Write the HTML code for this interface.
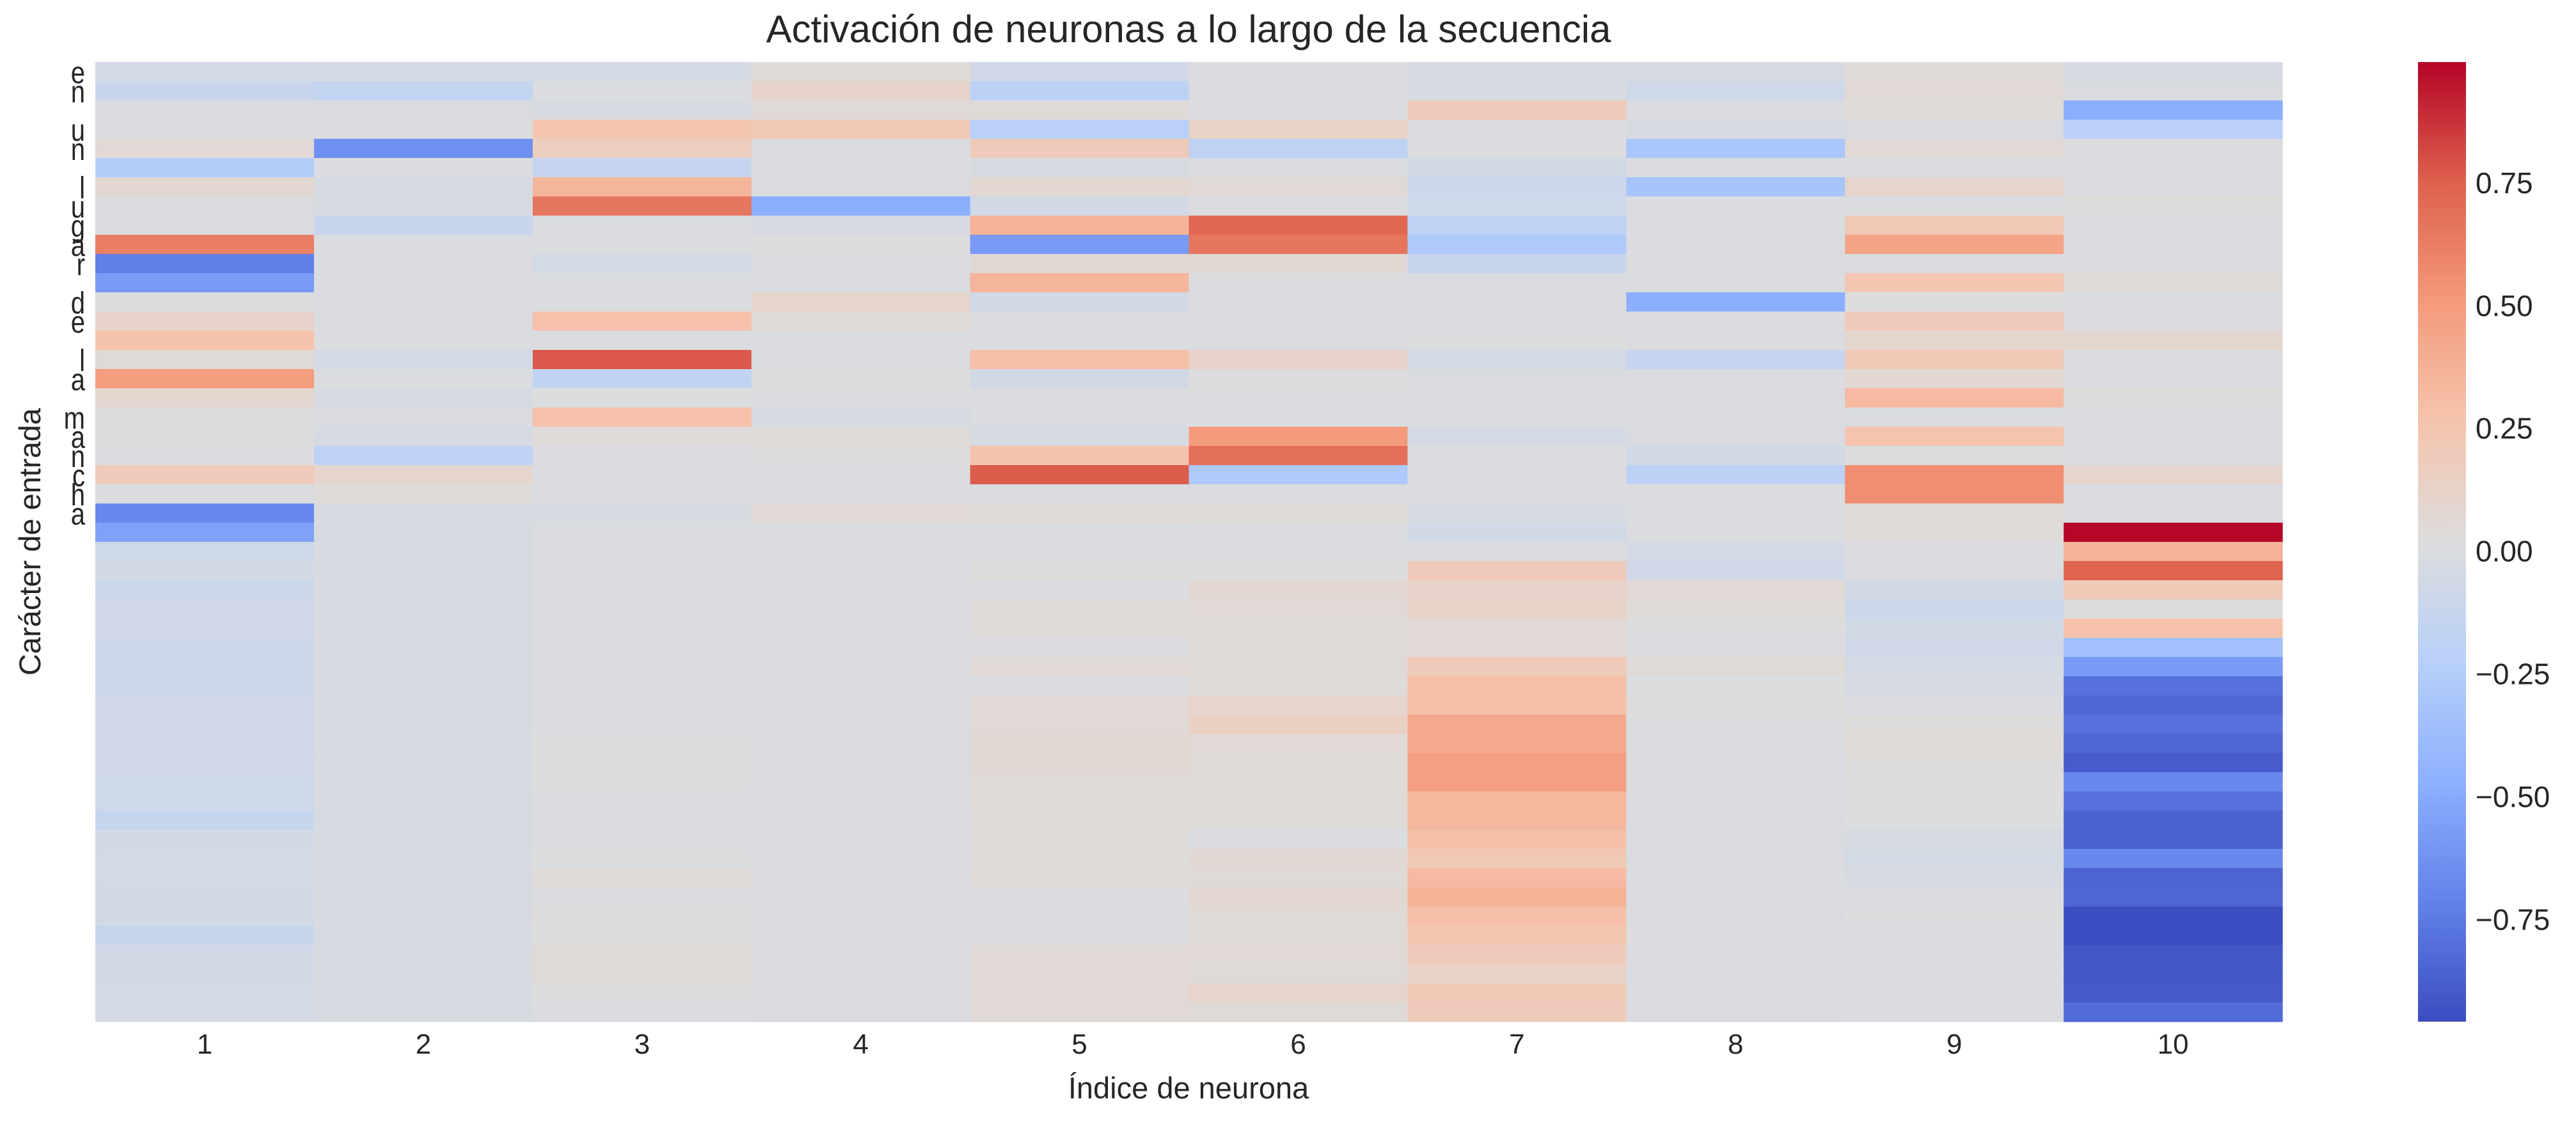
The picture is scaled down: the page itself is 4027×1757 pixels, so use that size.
<!DOCTYPE html>
<html><head><meta charset="utf-8">
<style>
html,body{margin:0;padding:0;background:#fff;}
svg text{font-family:"Liberation Sans",Arial,sans-serif;fill:#262626;}
</style></head>
<body>
<svg id="chart" xmlns="http://www.w3.org/2000/svg" width="4027" height="1752" viewBox="0 0 4027 1752">
<defs>
<linearGradient id="cmap" x1="0" y1="1" x2="0" y2="0">
<stop offset="0" stop-color="rgb(59,76,192)"/>
<stop offset="0.125" stop-color="rgb(98,130,234)"/>
<stop offset="0.25" stop-color="rgb(141,176,254)"/>
<stop offset="0.375" stop-color="rgb(184,208,249)"/>
<stop offset="0.5" stop-color="rgb(221,221,221)"/>
<stop offset="0.625" stop-color="rgb(245,196,173)"/>
<stop offset="0.75" stop-color="rgb(244,154,123)"/>
<stop offset="0.875" stop-color="rgb(222,96,77)"/>
<stop offset="1" stop-color="rgb(180,4,38)"/>
</linearGradient>
</defs>
<text x="1858" y="66" font-size="60" text-anchor="middle">Activación de neuronas a lo largo de la secuencia</text>
<g id="cells"></g>
<g id="yticks"></g>
<g id="xticks"></g>
<text x="1858" y="1717" font-size="47" text-anchor="middle">Índice de neurona</text>
<text x="0" y="0" font-size="47" text-anchor="middle" transform="translate(63,847) rotate(-90)">Carácter de entrada</text>
<rect x="3780" y="97" width="75" height="1500" fill="url(#cmap)"/>
<g id="cbticks"></g>
</svg>
<script>
const sequence = "en un lugar de la mancha";
const neurons = ["1","2","3","4","5","6","7","8","9","10"];
const cbTicks = [0.75,0.5,0.25,0,-0.25,-0.5,-0.75];
const cbTickLabels = ["0.75","0.50","0.25","0.00","\u22120.25","\u22120.50","\u22120.75"];
const vmin = -0.958, vmax = 0.996;
const n1 = [-0.05,-0.12,0,0,0.06,-0.25,0.08,0,0,0.62,-0.72,-0.58,0.01,0.12,0.27,0.05,0.49,0.09,0.01,0.02,0,0.2,0,-0.68,-0.55,-0.08,-0.06,-0.1,-0.07,-0.07,-0.1,-0.1,-0.1,-0.07,-0.07,-0.07,-0.07,-0.08,-0.08,-0.13,-0.06,-0.05,-0.05,-0.06,-0.06,-0.13,-0.06,-0.06,-0.05,-0.05];
const n2 = [-0.04,-0.15,-0.01,0,-0.64,0,-0.03,-0.02,-0.12,0,0,0,0,0,0,-0.05,0,-0.03,0,-0.03,-0.19,0.1,0.04,-0.02,-0.02,-0.02,-0.02,-0.02,-0.02,-0.02,-0.02,-0.02,-0.02,-0.02,-0.02,-0.02,-0.02,-0.02,-0.02,-0.02,-0.02,-0.02,-0.02,-0.02,-0.02,-0.02,-0.02,-0.02,-0.02,-0.02];
const n3 = [-0.04,0,-0.02,0.25,0.18,-0.14,0.35,0.66,0,0,-0.05,0,0,0.28,0,0.77,-0.17,0.01,0.28,0.04,0,0,0,-0.02,0,0,0,0,0,0,0,0,0,0,0,0.01,0.01,0.01,0,0,0,0.01,0.04,0,0.03,0.01,0.05,0.05,0.01,0];
const n4 = [0.05,0.12,0.05,0.22,0,0,0,-0.48,-0.03,0.02,0,0,0.1,0.05,0,0,0.02,0,-0.02,0.04,0.03,0,0,0.06,-0.01,-0.01,-0.01,-0.01,-0.01,-0.01,-0.01,-0.01,-0.01,-0.01,-0.01,-0.01,-0.01,-0.01,-0.01,-0.01,-0.01,-0.01,-0.01,-0.01,-0.01,-0.01,-0.01,-0.01,-0.01,-0.01];
const n5 = [-0.07,-0.2,0.05,-0.22,0.2,-0.02,0.08,-0.06,0.36,-0.58,0.07,0.35,-0.06,0,0,0.29,-0.06,0,0,-0.03,0.27,0.76,0,0.05,0,0,0.03,0,0.04,0.04,0,0.06,0,0.06,0.06,0.07,0.07,0.05,0.05,0.04,0.04,0.04,0.05,0,0,0,0.06,0.06,0.06,0.06];
const n6 = [0,0,0,0.13,-0.18,0,0.06,0,0.72,0.66,0.07,0,0,0,0,0.12,0.02,0,0,0.5,0.69,-0.28,0,0.04,0,0,0.02,0.08,0.06,0.04,0.04,0.05,0.04,0.1,0.15,0.06,0.05,0.05,0.05,0.04,0,0.07,0.05,0.08,0.05,0.05,0.06,0.05,0.1,0.05];
const n7 = [-0.02,-0.02,0.2,0,0,-0.06,-0.1,-0.08,-0.18,-0.28,-0.12,0,0,0,0.01,-0.04,-0.01,0,0,-0.04,0,0,0,-0.02,-0.06,0,0.2,0.12,0.13,0.06,0.06,0.2,0.29,0.29,0.42,0.42,0.48,0.48,0.34,0.34,0.29,0.22,0.32,0.37,0.29,0.24,0.2,0.13,0.21,0.2];
const n8 = [-0.02,-0.08,0,-0.02,-0.3,0,-0.32,0,0,0,0,0,-0.48,0,0,-0.14,0,-0.01,0,-0.01,-0.06,-0.2,0,0,0,-0.04,-0.07,0.06,0.04,0.01,0,0.05,0.01,0.03,0,0,-0.01,0,0,-0.01,-0.01,-0.01,0,-0.01,-0.01,0,-0.01,-0.01,-0.01,-0.01];
const n9 = [0.04,0.06,0.04,-0.01,0.06,0,0.1,0,0.22,0.45,0,0.24,0.01,0.2,0.09,0.21,0.08,0.32,0,0.26,0.01,0.56,0.56,0.05,0.04,0,0,-0.06,-0.1,-0.06,-0.07,-0.04,-0.02,-0.01,0.03,0.05,0.03,0.02,0.02,0.01,-0.02,-0.04,-0.02,0,0.01,0,0,0,0,0];
const n10 = [-0.03,-0.01,-0.48,-0.22,0,0,0,0.03,0,0,0,0.05,0,0,0.09,0,0,0.03,0,0,0,0.1,0,0,0.99,0.36,0.74,0.21,0.03,0.28,-0.35,-0.58,-0.79,-0.84,-0.79,-0.84,-0.89,-0.68,-0.79,-0.86,-0.86,-0.68,-0.85,-0.84,-0.95,-0.95,-0.91,-0.91,-0.9,-0.82];

const columns = [n1,n2,n3,n4,n5,n6,n7,n8,n9,n10];
const NS = "http://www.w3.org/2000/svg";
const plotL = 149, plotR = 3568, plotT = 97, plotB = 1597;
const nRows = n1.length, nCols = neurons.length;
const cw = (plotR - plotL) / nCols, rh = (plotB - plotT) / nRows;
function xPos(c){ return plotL + c * cw; }
function yPos(r){ return plotT + r * rh; }
const stops = [[59,76,192],[98,130,234],[141,176,254],[184,208,249],[221,221,221],[245,196,173],[244,154,123],[222,96,77],[180,4,38]];
function color(v){
  let t = (v - vmin) / (vmax - vmin); t = Math.max(0, Math.min(1, t));
  const p = t * (stops.length - 1); const i = Math.min(stops.length - 2, Math.floor(p)); const f = p - i;
  const a = stops[i], b = stops[i+1];
  return "rgb(" + [0,1,2].map(k => Math.round(a[k] + (b[k]-a[k]) * f)).join(",") + ")";
}
const cells = document.getElementById("cells");
columns.forEach((col, c) => {
  col.forEach((v, r) => {
    const rect = document.createElementNS(NS, "rect");
    
    
    rect.setAttribute("x", xPos(c));
    rect.setAttribute("y", yPos(r));
    rect.setAttribute("width", cw + 0.6);
    rect.setAttribute("height", rh + 0.6);
    rect.setAttribute("fill", color(v));
    cells.appendChild(rect);
  });
});
const xt = document.getElementById("xticks");
neurons.forEach((n, c) => {
  const t = document.createElementNS(NS, "text");
  
  
  t.setAttribute("x", xPos(c) + cw / 2);
  t.setAttribute("y", 1647);
  t.setAttribute("font-size", "44");
  t.setAttribute("text-anchor", "middle");
  t.textContent = n;
  xt.appendChild(t);
});
const yt = document.getElementById("yticks");
sequence.split("").forEach((ch, r) => {
  if (ch === " ") return;
  const t = document.createElementNS(NS, "text");
  
  
  t.setAttribute("x", 0);
  t.setAttribute("y", 0);
  t.setAttribute("font-size", "40");
  t.setAttribute("text-anchor", "end");
  t.setAttribute("transform", "translate(133," + (yPos(r) + rh / 2 + 18) + ") scale(1,1.2)");
  t.textContent = ch;
  yt.appendChild(t);
});
const cb = document.getElementById("cbticks");
function cbY(v){ return plotB - (v - vmin) / (vmax - vmin) * (plotB - plotT); }
cbTicks.forEach((v, i) => {
  const t = document.createElementNS(NS, "text");
  
  
  t.setAttribute("x", 3870);
  t.setAttribute("y", cbY(v) + 16);
  t.setAttribute("font-size", "46");
  t.textContent = cbTickLabels[i];
  cb.appendChild(t);
});
</script>
</body></html>
